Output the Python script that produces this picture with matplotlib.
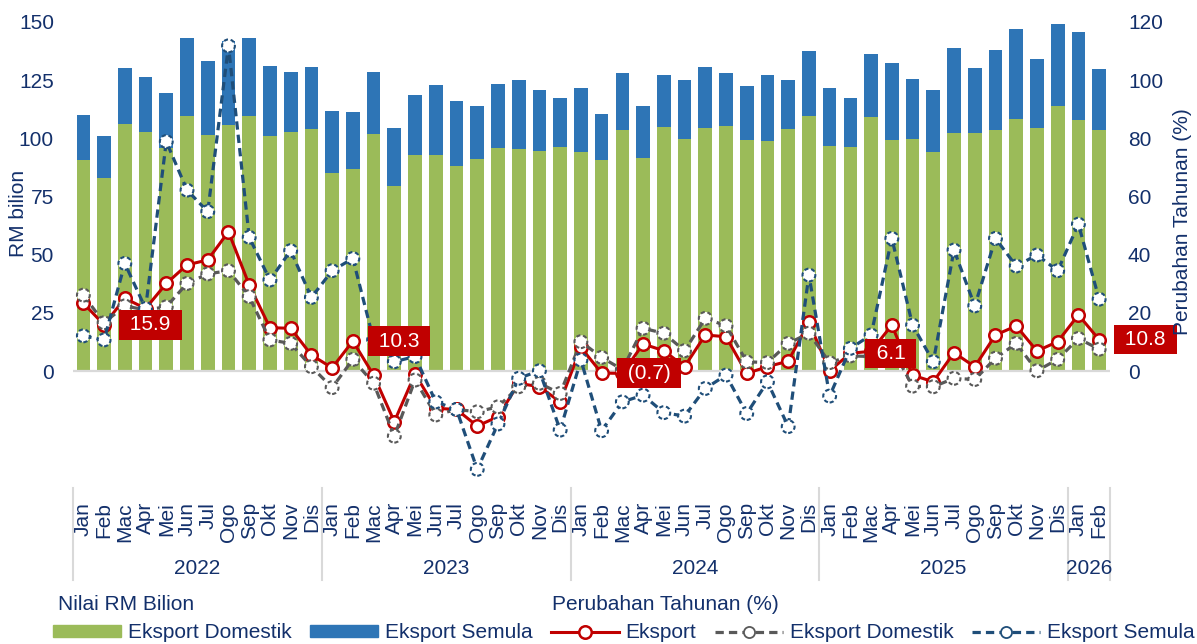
import numpy as np
import matplotlib
matplotlib.use('Agg')
import matplotlib.pyplot as plt
from matplotlib.transforms import blended_transform_factory
from matplotlib.lines import Line2D
from matplotlib.patches import Patch

plt.rcParams['font.family'] = ['Liberation Sans', 'DejaVu Sans']

months = ['Jan', 'Feb', 'Mac', 'Apr', 'Mei', 'Jun', 'Jul', 'Ogo', 'Sep', 'Okt', 'Nov', 'Dis']
years = ['2022', '2023', '2024', '2025', '2026']
months_per_year = [12, 12, 12, 12, 2]

# RM bilion (bars)
eksport_domestik = [
    90.5, 83.1, 106.1, 102.6, 96.0, 109.6, 101.4, 105.7, 109.6, 100.8, 102.7, 104.1,
    85.3, 86.8, 101.7, 79.5, 92.8, 92.8, 88.2, 91.1, 96.0, 95.4, 94.7, 96.4,
    94.0, 90.8, 103.6, 91.4, 105.0, 99.7, 104.6, 105.4, 99.1, 98.7, 104.0, 109.4,
    96.8, 96.1, 109.1, 99.1, 99.9, 94.2, 102.1, 102.5, 103.6, 108.3, 104.3, 113.7,
    107.9, 103.6,
]
eksport_semula = [
    19.5, 17.7, 24.3, 23.7, 23.5, 33.5, 31.8, 36.3, 33.5, 30.1, 25.9, 26.5,
    26.4, 24.5, 26.9, 24.8, 25.7, 30.1, 27.7, 22.9, 27.2, 29.6, 26.1, 21.1,
    27.5, 19.6, 24.5, 22.7, 22.2, 25.3, 25.9, 22.8, 23.5, 28.5, 21.0, 28.1,
    24.9, 21.1, 27.1, 33.4, 25.7, 26.4, 36.8, 27.7, 34.3, 38.8, 29.6, 35.6,
    37.8, 26.2,
]

# Perubahan tahunan (%) (lines)
yoy_eksport = [
    23.3, 15.9, 25.0, 21.5, 30.1, 36.5, 38.2, 47.9, 29.6, 14.9, 14.7, 5.5,
    1.1, 10.3, -1.4, -17.4, -1.0, -12.8, -13.2, -18.9, -15.7, -4.2, -5.4, -10.6,
    8.1, -0.7, -0.8, 9.3, 7.0, 1.5, 12.4, 11.8, -0.8, 1.5, 3.4, 16.7,
    0.1, 6.1, 6.8, 15.8, -1.4, -3.7, 6.3, 1.5, 12.4, 15.5, 6.9, 10.1,
    19.3, 10.8,
]
yoy_domestik = [
    26.1, 16.6, 22.4, 21.0, 22.1, 30.1, 33.4, 34.5, 25.6, 10.7, 9.5, 1.5,
    -5.7, 4.0, -4.2, -22.4, -3.1, -15.1, -13.2, -14.0, -12.3, -5.4, -4.2, -7.7,
    10.1, 4.7, 0.5, 14.7, 13.0, 7.0, 18.1, 15.6, 3.2, 2.9, 9.5, 13.0,
    2.9, 5.2, 5.0, 8.0, -5.2, -5.4, -2.5, -2.9, 4.4, 9.5, 0.1, 4.0,
    11.2, 7.5,
]
yoy_semula = [
    12.1, 10.7, 37.0, 21.5, 78.9, 62.2, 54.8, 111.8, 46.0, 31.3, 41.4, 25.3,
    34.5, 38.7, 10.7, 3.2, 5.0, -10.6, -13.2, -33.8, -18.2, -2.5, 0.1, -20.3,
    3.8, -20.5, -10.6, -8.3, -14.3, -15.5, -6.0, -1.4, -14.6, -3.7, -19.1, 33.0,
    -8.6, 7.8, 12.4, 45.6, 15.8, 3.2, 41.6, 22.4, 45.6, 36.1, 39.9, 34.5,
    50.5, 24.7,
]

# Feb of each year gets a red data label
label_idx = [1, 13, 25, 37, 49]

navy = '#13306B'
green = '#9BBB59'
blue = '#2E75B6'
red = '#C00000'
grey = '#595959'
dblue = '#1F4E79'
fs = 15

W, H = 1197, 644
fig = plt.figure(figsize=(W / 100, H / 100), dpi=100)
left_px, right_px, top_px, bot_px = 73, 1109.5, 22, 487.4
ax = fig.add_axes([left_px / W, 1 - bot_px / H, (right_px - left_px) / W, (bot_px - top_px) / H])

x = np.arange(len(eksport_domestik))
dom = np.array(eksport_domestik)
sem = np.array(eksport_semula)

ax.bar(x, dom, width=0.66, color=green, zorder=2)
ax.bar(x, sem, bottom=dom, width=0.66, color=blue, zorder=2)
ax.axhline(0, color='#D9D9D9', lw=1.6, zorder=3)

ax.set_xlim(-0.5, len(x) - 0.5)
ax.set_ylim(-50, 150)
ax.set_yticks(np.arange(0, 151, 25))
ax.set_xticks([])
ax.tick_params(axis='y', length=0, pad=13.7, labelsize=fs, labelcolor=navy)
for s in ax.spines.values():
    s.set_visible(False)

ax2 = ax.twinx()
ax2.set_ylim(-40, 120)
ax2.set_yticks(np.arange(0, 121, 20))
ax2.tick_params(axis='y', length=0, pad=13.3, labelsize=fs, labelcolor=navy)
for s in ax2.spines.values():
    s.set_visible(False)

dash = (0, (2.6, 1.6))
ax2.plot(x, yoy_eksport, color=red, lw=2.2, marker='o', ms=9, mfc='white',
         mec=red, mew=1.8, zorder=3)
ax2.plot(x, yoy_domestik, color=grey, lw=2.3, ls=dash, zorder=4)
ax2.scatter(x, yoy_domestik, s=85, facecolors='white', edgecolors=grey,
            linewidths=1.5, linestyles=(0, (2, 1.3)), zorder=4.1)
ax2.plot(x, yoy_semula, color=dblue, lw=2.3, ls=dash, zorder=5)
ax2.scatter(x, yoy_semula, s=85, facecolors='white', edgecolors=dblue,
            linewidths=1.5, linestyles=(0, (2, 1.3)), zorder=5.1)

for i in label_idx:
    v = yoy_eksport[i]
    txt = f'({abs(v):.1f})' if v < 0 else f'{v:.1f}'
    ax2.annotate(' ' + txt + ' ', xy=(i, v), xytext=(14.5, 0), textcoords='offset points',
                 ha='left', va='center', color='white', fontsize=fs,
                 bbox=dict(boxstyle='square,pad=0.25', fc=red, ec='none'),
                 zorder=10, annotation_clip=False)

# category axis: months and years
tr = blended_transform_factory(ax.transData, ax.transAxes)
ax_h = bot_px - top_px
pos = 0
bounds = [-0.5]
for yr, n in zip(years, months_per_year):
    for m in range(n):
        ax.text(pos + m, -(502 - bot_px) / ax_h, months[m], transform=tr, rotation=90,
                ha='center', va='top', fontsize=fs, color=navy)
    ax.text(pos + (n - 1) / 2, -(568 - bot_px) / ax_h, yr, transform=tr,
            ha='center', va='center', fontsize=fs, color=navy)
    pos += n
    bounds.append(pos - 0.5)
for b in bounds:
    ax.plot([b, b], [-(488 - bot_px) / ax_h, -(580 - bot_px) / ax_h], transform=tr,
            color='#D9D9D9', lw=1.5, clip_on=False)

fig.text(19 / W, 1 - 213 / H, 'RM bilion', rotation=90, ha='center', va='center',
         fontsize=fs, color=navy)
fig.text(1182 / W, 1 - 222 / H, 'Perubahan Tahunan (%)', rotation=90, ha='center',
         va='center', fontsize=fs, color=navy)

fig.text(58 / W, 1 - 604 / H, 'Nilai RM Bilion', ha='left', va='center', fontsize=fs, color=navy)
fig.text(552 / W, 1 - 604 / H, 'Perubahan Tahunan (%)', ha='left', va='center',
         fontsize=fs, color=navy)

handles = [
    Patch(color=green),
    Patch(color=blue),
    Line2D([], [], color=red, lw=2.2, marker='o', ms=9, mfc='white', mec=red, mew=1.8),
    Line2D([], [], color=grey, lw=2.3, ls=dash, marker='o', ms=8, mfc='white', mec=grey, mew=1.3),
    Line2D([], [], color=dblue, lw=2.3, ls=dash, marker='o', ms=8, mfc='white', mec=dblue, mew=1.3),
]
labels = ['Eksport Domestik', 'Eksport Semula', 'Eksport', 'Eksport Domestik', 'Eksport Semula']
leg = fig.legend(handles, labels, ncol=5, loc='center left',
                 bbox_to_anchor=(53 / W, 1 - 633 / H), frameon=False, fontsize=fs,
                 handlelength=3.25, handleheight=0.55, handletextpad=0.33,
                 columnspacing=0.9, borderpad=0, borderaxespad=0)
for t in leg.get_texts():
    t.set_color(navy)

fig.savefig('out.png', dpi=100)
